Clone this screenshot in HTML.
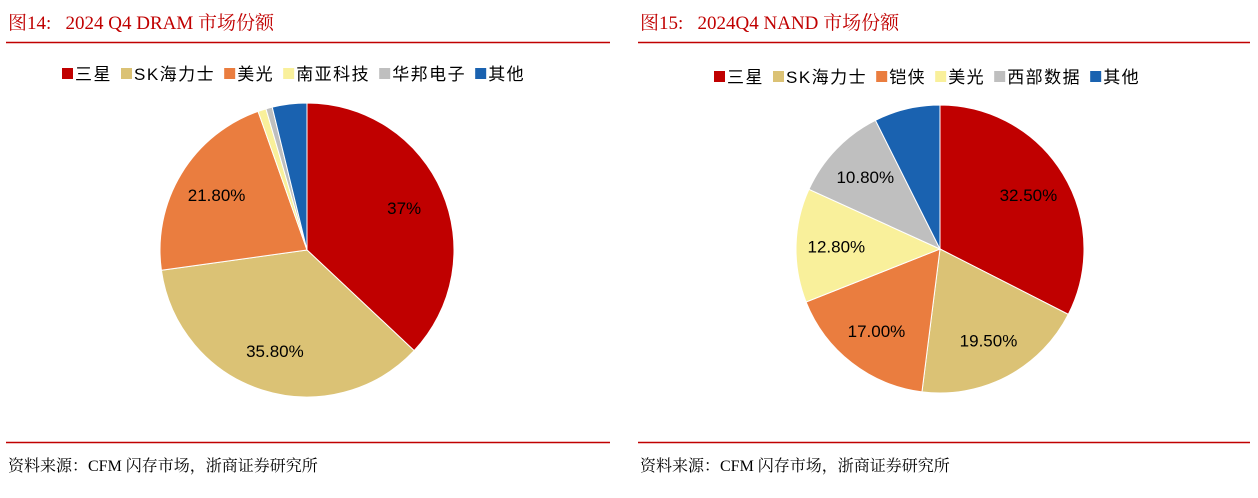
<!DOCTYPE html>
<html><head><meta charset="utf-8"><style>
body{margin:0;width:1258px;height:498px;background:#fff;overflow:hidden;font-family:"Liberation Sans","Noto Sans CJK SC",sans-serif}
svg{position:absolute;left:0;top:0}
</style></head><body>
<svg width="1258" height="498" id="s">
<g>
<text x="8" y="29" font-family="Liberation Serif,Noto Serif CJK SC,serif" font-size="19" fill="#c00000">图14:&#160;&#160;&#160;2024 Q4 DRAM 市场份额</text>
<line x1="6" y1="42.5" x2="610" y2="42.5" stroke="#c00000" stroke-width="1.5"/>
<line x1="6" y1="442.5" x2="610" y2="442.5" stroke="#c00000" stroke-width="1.5"/>
<text x="8" y="471" font-family="Liberation Serif,Noto Serif CJK SC,serif" font-size="16" fill="#000">资料来源：CFM 闪存市场，浙商证券研究所</text>
</g>
<g>
<text x="640" y="29" font-family="Liberation Serif,Noto Serif CJK SC,serif" font-size="19" fill="#c00000">图15:&#160;&#160;&#160;2024Q4 NAND 市场份额</text>
<line x1="638" y1="42.5" x2="1250" y2="42.5" stroke="#c00000" stroke-width="1.5"/>
<line x1="638" y1="442.5" x2="1250" y2="442.5" stroke="#c00000" stroke-width="1.5"/>
<text x="640" y="471" font-family="Liberation Serif,Noto Serif CJK SC,serif" font-size="16" fill="#000">资料来源：CFM 闪存市场，浙商证券研究所</text>
</g>
</svg>
<script>
const dramCats=["三星","SK海力士","美光","南亚科技","华邦电子","其他"];
const dramVals=[37,35.8,21.8,0.9,0.7,3.8];
const dramLabels=["37%","35.80%","21.80%","","",""];
const nandCats=["三星","SK海力士","铠侠","美光","西部数据","其他"];
const nandVals=[32.5,19.5,17.0,12.8,10.8,7.4];
const nandLabels=["32.50%","19.50%","17.00%","12.80%","10.80%",""];
const dramColors=["#c00000","#dbc275","#ea7d3f","#f9f09b","#bfbfbf","#1a62b0"];
const nandColors=["#c00000","#dbc275","#ea7d3f","#f9f09b","#bfbfbf","#1a62b0"];
const NS="http://www.w3.org/2000/svg";
const svg=document.getElementById('s');
function mk(t,a){const e=document.createElementNS(NS,t);for(const k in a)e.setAttribute(k,a[k]);svg.appendChild(e);return e;}
function pie(prefix,cats,vals,labels,colors,cx,cy,r,lx,ly,gap){
  const tot=vals.reduce((a,b)=>a+b,0);let a0=0;
  vals.forEach((v,i)=>{
    const a1=a0+v/tot*2*Math.PI;
    const x0=cx+r*Math.sin(a0),y0=cy-r*Math.cos(a0),x1=cx+r*Math.sin(a1),y1=cy-r*Math.cos(a1);
    const p=mk('path',{d:`M${cx},${cy}L${x0},${y0}A${r},${r} 0 ${a1-a0>Math.PI?1:0} 1 ${x1},${y1}Z`,fill:colors[i],stroke:'#fff','stroke-width':1});
    
    
    if(labels[i]){const m=(a0+a1)/2;
      const t=mk('text',{x:cx+r*0.72*Math.sin(m),y:cy-r*0.72*Math.cos(m)+6,'text-anchor':'middle','font-size':17,fill:'#000'});
      t.textContent=labels[i];
      
      }
    a0=a1;
  });
  let x=lx;
  cats.forEach((c,i)=>{
    const sq=mk('rect',{x:x,y:ly-12,width:11,height:11,fill:colors[i]});
    
    
    const t=mk('text',{x:x+13,y:ly,'font-size':17,fill:'#000','letter-spacing':1.5});
    t.textContent=c;
    
    
    x+=13+t.getComputedTextLength()+gap;
  });
}
pie('dram',dramCats,dramVals,dramLabels,dramColors,307,250,147,62,80,9);
pie('nand',nandCats,nandVals,nandLabels,nandColors,940,249,144,714,83,9);
</script>
</body></html>
